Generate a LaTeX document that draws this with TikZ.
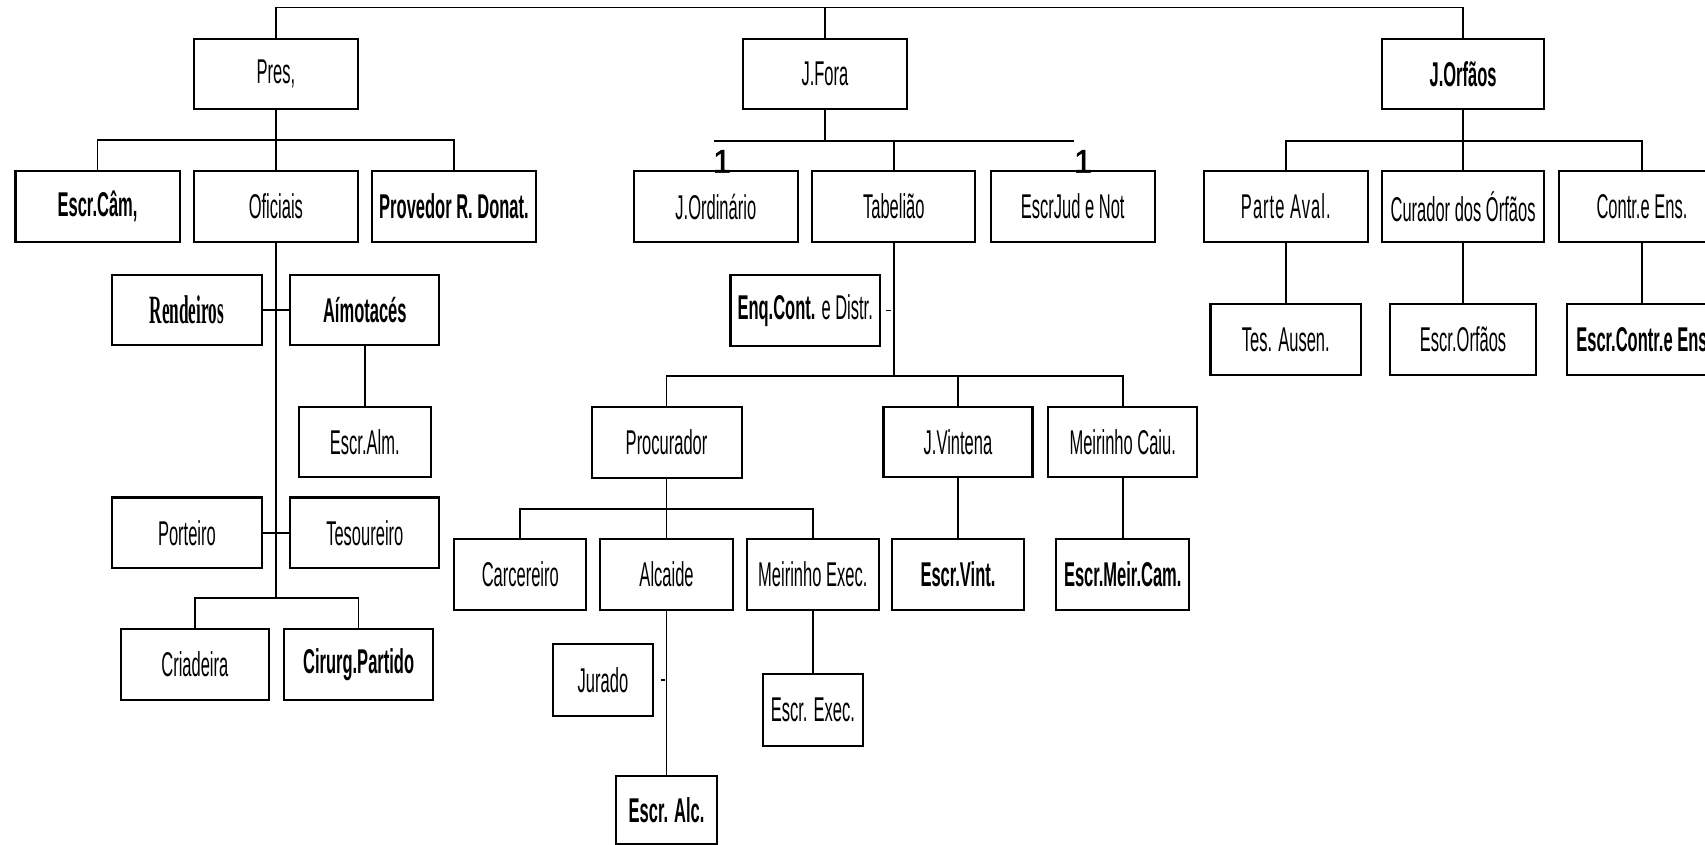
\documentclass[tikz,border=0pt]{standalone}
\usepackage{fontspec}
\setmainfont{Liberation Sans}[FakeStretch=0.48]
\newfontfamily\spacedfont{Liberation Sans}[FakeStretch=0.48, LetterSpace=3]
\newfontfamily\serifnarrow{Liberation Serif}[FakeStretch=0.43]
\newfontfamily\plainfont{Liberation Sans}[FakeBold=1.5]

\tikzset{
	orgbox/.style={draw, line width=1.1pt, inner sep=0pt, minimum height=1.3cm,
		font=\fontsize{18}{20}\selectfont},
	boldtext/.style={font=\fontsize{18}{20}\selectfont\bfseries},
	link/.style={line width=0.9pt},
	onemark/.style={inner sep=0pt, anchor=south, font=\plainfont\fontsize{17}{17}\selectfont},
}

\begin{document}
\begin{tikzpicture}[x=0.02cm, y=-0.02cm]
	
	% ------------------------------------------------
	% Page of the scan
	\clip (0,0) rectangle (1568,777);
	\fill[white] (0,0) rectangle (1568,777);
	
	% ------------------------------------------------
	% First row
	\node[orgbox, minimum width=3.01cm] (Pres) at (253.7,68) {Pres,};
	\node[orgbox, minimum width=3.02cm] (JFora) at (758.6,68) {J.Fora};
	\node[orgbox, boldtext, minimum width=2.98cm] (JOrfaos) at (1345.5,68) {J.Orfãos};
	
	% ----------------
	% Second row
	\node[orgbox, boldtext, minimum width=3.02cm] (EscrCam) at (89.7,190) {Escr.Câm,};
	\node[orgbox, minimum width=3.01cm] (Oficiais) at (253.7,190) {Oficiais};
	\node[orgbox, boldtext, minimum width=3.01cm] (Provedor) at (417.5,190) {Provedor R. Donat.};
	\node[orgbox, minimum width=3.02cm] (JOrdinario) at (658.3,190) {J.Ordinário};
	\node[orgbox, minimum width=3.00cm] (Tabeliao) at (822,190) {Tabelião};
	\node[orgbox, minimum width=3.02cm] (EscrJud) at (986.5,190) {EscrJud e Not};
	\node[orgbox, minimum width=3.02cm] (ParteAval) at (1182.5,190) {\spacedfont Parte Aval.};
	\node[orgbox, minimum width=2.98cm] (Curador) at (1345.5,190) {Curador dos Órfãos};
	\node[orgbox, minimum width=3.04cm] (ContrEns) at (1510,190) {Contr.e Ens.};
	
	% ----------------
	% Under Oficiais
	\node[orgbox, minimum width=2.75cm, font=\serifnarrow\bfseries\fontsize{21}{23}\selectfont] (Rendeiros) at (171.9,285) {Rendeiros};
	\node[orgbox, boldtext, minimum width=2.74cm] (Aimotaces) at (335.5,285) {Aímotacés};
	\node[orgbox, minimum width=2.43cm] (EscrAlm) at (335.5,406.5) {Escr.Alm.};
	\node[orgbox, minimum width=2.75cm] (Porteiro) at (171.9,490) {Porteiro};
	\node[orgbox, minimum width=2.74cm] (Tesoureiro) at (335.5,490) {Tesoureiro};
	\node[orgbox, minimum width=2.73cm] (Criadeira) at (179.2,611) {Criadeira};
	\node[orgbox, boldtext, minimum width=2.75cm] (Cirurg) at (329.8,611) {Cirurg.Partido};
	
	% ----------------
	% Under Tabelião
	\node[orgbox, minimum width=2.75cm] (EnqCont) at (740.5,285.5) {\textbf{Enq.Cont.} e Distr.};
	\node[orgbox, minimum width=2.76cm] (Procurador) at (613,407) {Procurador};
	\node[orgbox, minimum width=2.74cm] (JVintena) at (881,406.5) {J.Vintena};
	\node[orgbox, minimum width=2.74cm] (MeirCaiu) at (1032.5,406.5) {Meirinho Caiu.};
	\node[orgbox, minimum width=2.43cm] (Carcereiro) at (478.5,528.5) {Carcereiro};
	\node[orgbox, minimum width=2.45cm] (Alcaide) at (613,528.5) {Alcaide};
	\node[orgbox, minimum width=2.42cm] (MeirExec) at (747.5,528.5) {Meirinho Exec.};
	\node[orgbox, boldtext, minimum width=2.42cm] (EscrVint) at (881,528.5) {Escr.Vint.};
	\node[orgbox, boldtext, minimum width=2.45cm] (EscrMeir) at (1032.5,528.5) {Escr.Meir.Cam.};
	\node[orgbox, minimum width=1.85cm, minimum height=1.32cm] (Jurado) at (554.5,625.5) {Jurado};
	\node[orgbox, minimum width=1.83cm, minimum height=1.32cm] (EscrExec) at (747.5,652.8) {Escr. Exec.};
	\node[orgbox, boldtext, minimum width=1.85cm, minimum height=1.24cm] (EscrAlc) at (613,745) {Escr. Alc.};
	
	% ----------------
	% Under J.Orfãos
	\node[orgbox, minimum width=2.77cm] (TesAusen) at (1182.5,312.3) {Tes. Ausen.};
	\node[orgbox, minimum width=2.68cm] (EscrOrfaos) at (1345.5,312.3) {Escr.Orfãos};
	\node[orgbox, boldtext, minimum width=2.76cm] (EscrContr) at (1510,312.3) {Escr.Contr.e Ens};
	
	% ------------------------------------------------
	% Top line
	\coordinate (TopBus) at (758.6,7);
	\draw[link] (Pres.north) |- (TopBus) -| (JOrfaos.north);
	\draw[link] (JFora.north) -- (TopBus);
	
	% Pres,
	\coordinate (PresBus) at (253.7,129);
	\draw[link] (Pres) -- (Oficiais);
	\draw[link] (EscrCam.north) |- (PresBus) -| (Provedor.north);
	
	% J.Fora
	\coordinate (ForaBusL) at (657,129.5);
	\coordinate (ForaBusR) at (988,129.5);
	\draw[link] (ForaBusL) -- (ForaBusR);
	\draw[link] (JFora.south) -- (JFora.south |- ForaBusL);
	\draw[link] (Tabeliao.north) -- (Tabeliao.north |- ForaBusL);
	\node[onemark] (OneL) at (664,159) {1};
	\node[onemark] (OneR) at (996,159) {1};
	
	% Oficiais
	\coordinate (OfBus) at (253.7,550);
	\draw[link] (Oficiais.south) -- (OfBus);
	\draw[link] (Rendeiros) -- (Aimotaces);
	\draw[link] (Porteiro) -- (Tesoureiro);
	\draw[link] (Aimotaces) -- (EscrAlm);
	\draw[link] (Criadeira.north) |- (OfBus) -| (Cirurg.north);
	
	% Tabelião
	\coordinate (TabBus) at (822,346);
	\draw[link] (Tabeliao.south) -- (TabBus);
	\draw[link] (Procurador.north) |- (TabBus) -| (MeirCaiu.north);
	\draw[link] (JVintena.north) -- (JVintena.north |- TabBus);
	\draw[link] ([xshift=0.1cm]EnqCont.east) -- ([xshift=0.19cm]EnqCont.east);
	
	% Procurador
	\coordinate (ProcBus) at (613,468);
	\draw[link] (Procurador) -- (Alcaide);
	\draw[link] (Carcereiro.north) |- (ProcBus) -| (MeirExec.north);
	\draw[link] (Alcaide) -- (EscrAlc);
	\draw[link] ([xshift=0.12cm]Jurado.east) -- ([xshift=0.2cm]Jurado.east);
	\draw[link] (MeirExec) -- (EscrExec);
	\draw[link] (JVintena) -- (EscrVint);
	\draw[link] (MeirCaiu) -- (EscrMeir);
	
	% J.Orfãos
	\coordinate (OrfBus) at (1345.5,129.4);
	\draw[link] (JOrfaos) -- (Curador);
	\draw[link] (ParteAval.north) |- (OrfBus) -| (ContrEns.north);
	\draw[link] (ParteAval) -- (TesAusen);
	\draw[link] (Curador) -- (EscrOrfaos);
	\draw[link] (ContrEns) -- (EscrContr);
	
\end{tikzpicture}
\end{document}
